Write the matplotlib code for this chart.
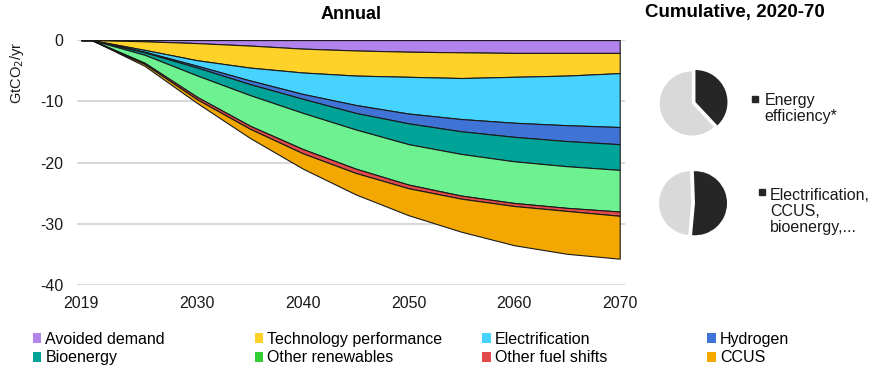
import matplotlib
matplotlib.use("Agg")
import matplotlib.pyplot as plt
from matplotlib.patches import Patch
from matplotlib.lines import Line2D
import numpy as np

plt.rcParams['font.family'] = ['Liberation Sans', 'DejaVu Sans']
plt.rcParams['axes.unicode_minus'] = False

# annual reductions by lever (GtCO2/yr, stacked downwards)
years = [2019, 2020, 2025, 2030, 2035, 2040, 2045, 2050, 2055, 2060, 2065, 2070]
avoided_demand = [0, 0, 0.2, 0.5, 0.9, 1.4, 1.7, 1.9, 2.0, 2.1, 2.1, 2.1]
tech_performance = [0, 0, 1.4, 2.8, 3.6, 3.9, 4.1, 4.1, 4.2, 3.9, 3.7, 3.3]
electrification = [0, 0, 0.3, 0.9, 2.1, 3.5, 4.8, 6.0, 6.7, 7.5, 8.1, 8.8]
hydrogen = [0, 0, 0.1, 0.3, 0.6, 0.8, 1.3, 1.6, 2.0, 2.3, 2.6, 2.8]
bioenergy = [0, 0, 0.4, 1.3, 1.8, 2.3, 2.7, 3.4, 3.7, 4.0, 4.1, 4.2]
other_renewables = [0, 0, 1.3, 3.5, 5.0, 5.9, 6.4, 6.6, 6.8, 6.8, 6.8, 6.8]
other_fuel_shifts = [0, 0, 0.2, 0.4, 0.5, 0.7, 0.7, 0.6, 0.5, 0.5, 0.5, 0.7]
ccus = [0, 0, 0.3, 0.6, 1.5, 2.5, 3.5, 4.4, 5.4, 6.4, 7.0, 7.0]

labels = ['Avoided demand', 'Technology performance', 'Electrification', 'Hydrogen',
          'Bioenergy', 'Other renewables', 'Other fuel shifts', 'CCUS']
fill_colors = ['#b283ec', '#ffd22a', '#47d3ff', '#3f74d6',
               '#00a398', '#6ef291', '#e34a4a', '#f2a800']
legend_colors = ['#b283ec', '#ffd22a', '#47d3ff', '#3f74d6',
                 '#00a398', '#33cc33', '#e34a4a', '#f2a800']

# cumulative shares 2020-70
eff_share = [38, 62]
other_share = [52, 48]

series = [avoided_demand, tech_performance, electrification, hydrogen,
          bioenergy, other_renewables, other_fuel_shifts, ccus]
neg = [-np.array(s) for s in series]

fig = plt.figure(figsize=(8.84, 3.78), dpi=100)
ax = fig.add_axes([0.087, 0.246, 0.62, 0.648])

ax.stackplot(years, *neg, colors=fill_colors, edgecolor='#1a1a1a', linewidth=0.8, zorder=3)

ax.set_xlim(2018.6, 2070.5)
ax.set_ylim(-40, 0)
ax.set_yticks([0, -10, -20, -30, -40])
ax.set_xticks([2019, 2030, 2040, 2050, 2060, 2070])
ax.grid(axis='y', color='#d9d9d9', linewidth=1.4, zorder=0)
ax.tick_params(length=0, labelsize=11.5, colors='#1a1a1a')
ax.tick_params(axis='y', pad=10)
ax.tick_params(axis='x', pad=8)
for s in ax.spines.values():
    s.set_visible(False)
ax.set_title('Annual', fontsize=13, fontweight='bold', pad=15)

fig.text(0.019, 0.807, r'GtCO$_2$/yr', fontsize=10.5, rotation=90, ha='center',
         va='center', color='#1a1a1a')
fig.text(0.831, 0.966, 'Cumulative, 2020-70', fontsize=13.5, fontweight='bold',
         ha='center', va='center')

# pies
pie_gray = '#d9d9d9'
pie_dark = '#262626'
ax_p1 = fig.add_axes([0.742, 0.63, 0.084, 0.195])
ax_p1.pie(eff_share, colors=[pie_dark, pie_gray], startangle=90, counterclock=False,
          explode=[0.08, 0.04], radius=1.0)
ax_p1.set_xlim(-1.15, 1.15)
ax_p1.set_ylim(-1.15, 1.15)
ax_p1.set_aspect('equal')

ax_p2 = fig.add_axes([0.742, 0.365, 0.084, 0.195])
ax_p2.pie(other_share, colors=[pie_dark, pie_gray], startangle=92, counterclock=False,
          explode=[0.06, 0.06], radius=1.0)
ax_p2.set_xlim(-1.15, 1.15)
ax_p2.set_ylim(-1.15, 1.15)
ax_p2.set_aspect('equal')

fig.add_artist(Line2D([0.854], [0.738], marker='s', ms=4.5, color=pie_dark,
                      transform=fig.transFigure))
fig.text(0.865, 0.712, 'Energy\nefficiency*', fontsize=11.5, va='center', ha='left',
         linespacing=1.1, color='#1a1a1a')
fig.add_artist(Line2D([0.862], [0.492], marker='s', ms=4.5, color=pie_dark,
                      transform=fig.transFigure))
fig.text(0.871, 0.44, 'Electrification,\nCCUS,\nbioenergy,...', fontsize=11.5,
         va='center', ha='left', linespacing=1.1, color='#1a1a1a')

# legend: four columns of two entries
handles = [Patch(facecolor=c, edgecolor='none') for c in legend_colors]
col_x = [0.037, 0.288, 0.545, 0.8]
for k, x in enumerate(col_x):
    leg = fig.legend([handles[k], handles[k + 4]], [labels[k], labels[k + 4]],
                     loc='upper left', bbox_to_anchor=(x, 0.123), frameon=False,
                     fontsize=11.5, handlelength=0.55, handleheight=0.55,
                     handletextpad=0.25, labelspacing=0.25, borderaxespad=0,
                     borderpad=0)

fig.savefig('out.png', dpi=100)
